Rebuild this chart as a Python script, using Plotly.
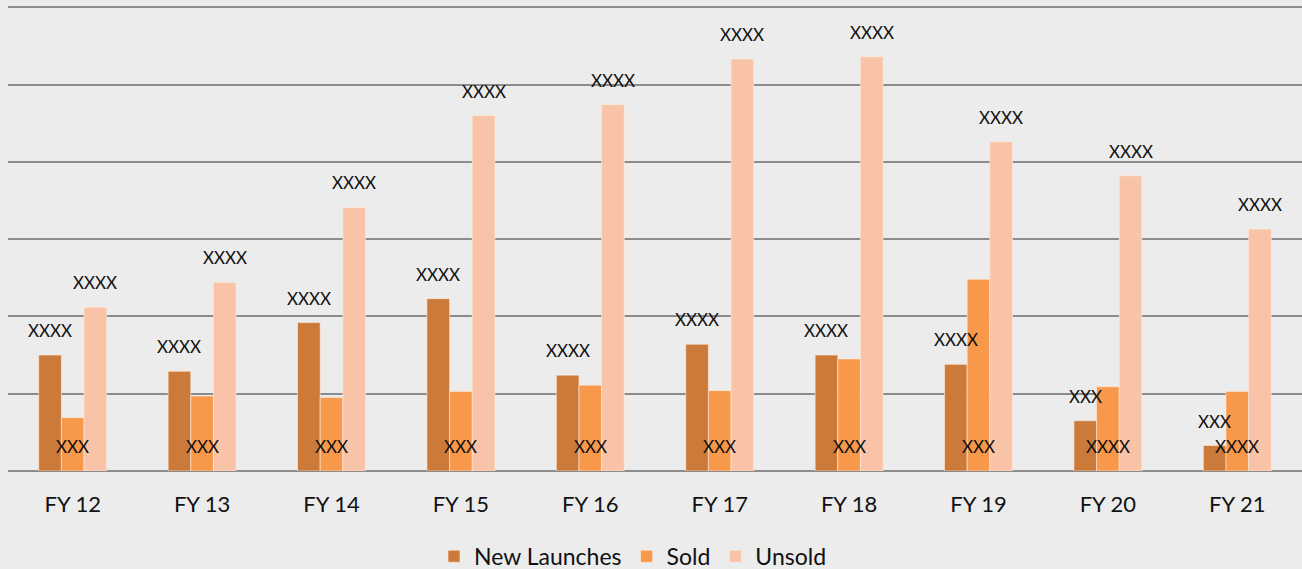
import plotly.graph_objects as go

# Fiscal years on the category axis
years = ["FY 12", "FY 13", "FY 14", "FY 15", "FY 16",
         "FY 17", "FY 18", "FY 19", "FY 20", "FY 21"]

# Series values (in grid units)
new_launches = [1.50, 1.29, 1.92, 2.23, 1.24, 1.64, 1.50, 1.38, 0.65, 0.33]
sold = [0.69, 0.97, 0.95, 1.03, 1.11, 1.04, 1.45, 2.48, 1.09, 1.03]
unsold = [2.12, 2.44, 3.41, 4.60, 4.74, 5.33, 5.36, 4.26, 3.82, 3.13]

# Data label strings shown on each series
nl_labels = ["XXXX"] * 8 + ["XXX"] * 2
sold_labels = ["XXX"] * 8 + ["XXXX"] * 2
unsold_labels = ["XXXX"] * 10

series_names = ["New Launches", "Sold", "Unsold"]
series_colors = ["#CB7A3A", "#F7984A", "#F9C3A8"]

FONT = "Lato"
W, H = 1302, 569
ML, MR, MT, MB = 8, 0, 5, 98
BARGAP = 0.475

fig = go.Figure()
for name, vals, col in zip(series_names, [new_launches, sold, unsold], series_colors):
    fig.add_trace(go.Bar(
        x=years, y=vals, name=name,
        marker=dict(color=col, line=dict(color="rgba(255,235,220,0.6)", width=1)),
    ))

# Pixel geometry of one category slot, used to offset labels onto each bar
plot_w = W - ML - MR
slot = plot_w / len(years)
bar_w = slot * (1 - BARGAP) / 3
offsets = [-bar_w, 0.0, bar_w]

annotations = []
for i, yr in enumerate(years):
    # labels above New Launches and Unsold bars
    for vals, labs, off in [(new_launches, nl_labels, offsets[0]),
                            (unsold, unsold_labels, offsets[2])]:
        annotations.append(dict(
            x=yr, y=vals[i], xref="x", yref="y", text=labs[i],
            showarrow=False, xshift=off, yshift=24.5,
            xanchor="center", yanchor="middle",
            font=dict(family=FONT, size=17, color="#111111"),
        ))
    # Sold labels sit at the base of the bar
    annotations.append(dict(
        x=yr, y=0, xref="x", yref="y", text=sold_labels[i],
        showarrow=False, xshift=offsets[1], yshift=24.5,
        xanchor="center", yanchor="middle",
        font=dict(family=FONT, size=17, color="#111111"),
    ))

fig.update_layout(
    width=W, height=H,
    margin=dict(l=ML, r=MR, t=MT, b=MB, autoexpand=False),
    paper_bgcolor="#ECECEC",
    plot_bgcolor="#ECECEC",
    barmode="group",
    bargap=BARGAP,
    bargroupgap=0,
    font=dict(family=FONT, size=22, color="#111111"),
    showlegend=True,
    legend=dict(
        orientation="h", x=0.483, xanchor="center", y=-0.183, yanchor="middle",
        font=dict(family=FONT, size=23, color="#111111"),
        bgcolor="rgba(0,0,0,0)", itemwidth=30, traceorder="normal",
    ),
    annotations=annotations,
)
fig.update_xaxes(
    showgrid=False, showline=False, ticks="", ticklabelstandoff=18,
    tickfont=dict(family=FONT, size=22, color="#111111"),
)
fig.update_yaxes(
    range=[0, 6.03], tickvals=[0, 1, 2, 3, 4, 5, 6], showticklabels=False, ticks="",
    showgrid=True, gridcolor="#8C8C8C", gridwidth=2,
    zeroline=True, zerolinecolor="#8C8C8C", zerolinewidth=2,
)

fig.write_html("out.html")
